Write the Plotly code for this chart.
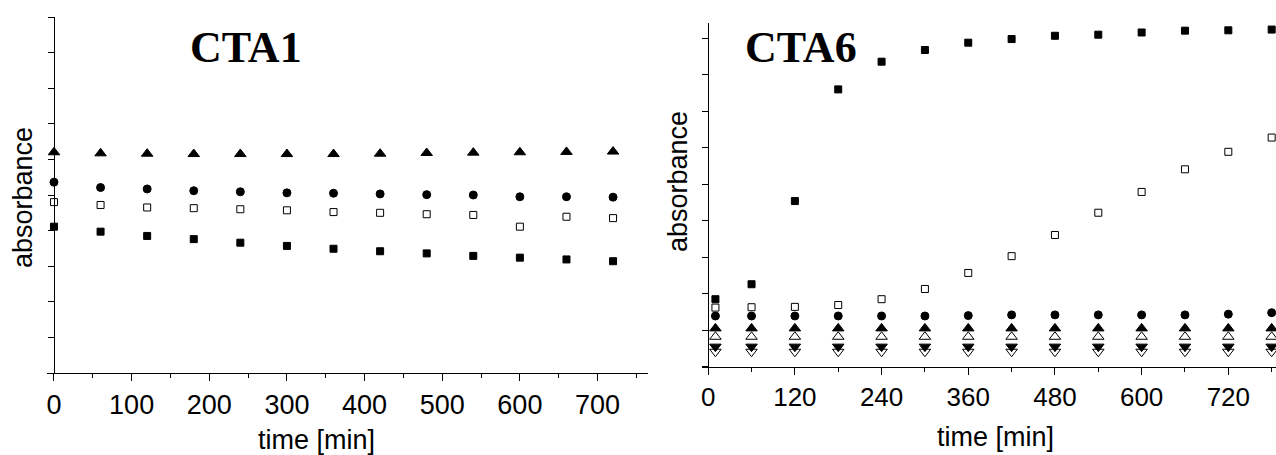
import plotly.graph_objects as go

W, H = 1276, 455

# ---------------- data: CTA1 (left) ----------------
t_left = [0, 60, 120, 180, 240, 300, 360, 420, 480, 540, 600, 660, 720]
cta1_tri_up = [6.20, 6.17, 6.16, 6.15, 6.15, 6.15, 6.15, 6.16, 6.18, 6.19, 6.20, 6.21, 6.22]
cta1_circle = [5.36, 5.21, 5.17, 5.12, 5.09, 5.06, 5.05, 5.03, 5.01, 5.00, 4.95, 4.95, 4.94]
cta1_sq_open = [4.80, 4.72, 4.65, 4.63, 4.60, 4.57, 4.52, 4.50, 4.46, 4.44, 4.11, 4.39, 4.35]
cta1_sq_fill = [4.11, 3.97, 3.85, 3.76, 3.66, 3.57, 3.49, 3.42, 3.36, 3.29, 3.24, 3.19, 3.14]

# ---------------- data: CTA6 (right) ----------------
t_right = [10, 60, 120, 180, 240, 300, 360, 420, 480, 540, 600, 660, 720, 780]
cta6_sq_fill = [1.85, 2.26, 4.54, 7.60, 8.36, 8.68, 8.88, 8.98, 9.07, 9.10, 9.16, 9.21, 9.22, 9.24]
cta6_sq_open = [1.62, 1.63, 1.64, 1.69, 1.85, 2.13, 2.57, 3.03, 3.61, 4.22, 4.79, 5.41, 5.89, 6.28]
cta6_circle = [1.39, 1.39, 1.39, 1.39, 1.39, 1.39, 1.40, 1.42, 1.42, 1.42, 1.42, 1.42, 1.44, 1.48]
cta6_tri_up = [1.05] * 14
cta6_tri_up_open = [0.82] * 14
cta6_tri_down = [0.55] * 14
cta6_tri_down_open = [0.41] * 14

right_xticks = [0, 120, 240, 360, 480, 600, 720]
titles = ["CTA1", "CTA6"]
x_title = "time [min]"
y_title = "absorbance"

FONT = "Liberation Sans, Arial, sans-serif"
SERIF = "Liberation Serif, Times New Roman, serif"


def px(x):
    return x / W


def py(y):
    return (H - y) / H


fig = go.Figure()


def add(x, y, symbol, size, xa, ya):
    fig.add_trace(go.Scatter(
        x=x, y=y, mode="markers", xaxis=xa, yaxis=ya, showlegend=False,
        cliponaxis=False,
        marker=dict(symbol=symbol, size=size, color="black",
                    line=dict(color="black", width=1)),
    ))


add(t_left, cta1_tri_up, "triangle-up", 10, "x", "y")
add(t_left, cta1_circle, "circle", 8, "x", "y")
add(t_left, cta1_sq_open, "square-open", 7, "x", "y")
add(t_left, cta1_sq_fill, "square", 7, "x", "y")

add(t_right, cta6_sq_fill, "square", 7, "x2", "y2")
add(t_right, cta6_sq_open, "square-open", 7, "x2", "y2")
add(t_right, cta6_circle, "circle", 8, "x2", "y2")
add(t_right, cta6_tri_up, "triangle-up", 10, "x2", "y2")
add(t_right, cta6_tri_up_open, "triangle-up-open", 10, "x2", "y2")
add(t_right, cta6_tri_down, "triangle-down", 10, "x2", "y2")
add(t_right, cta6_tri_down_open, "triangle-down-open", 10, "x2", "y2")


def axis_common(size):
    return dict(showgrid=False, zeroline=False, showline=True,
                linecolor="black", linewidth=1.2, ticks="outside",
                tickcolor="black", tickwidth=1.2,
                tickfont=dict(family=FONT, size=size, color="black"))


fig.update_layout(
    width=W, height=H,
    margin=dict(l=0, r=0, t=0, b=0),
    paper_bgcolor="white", plot_bgcolor="white",
    xaxis=dict(domain=[px(46.6), px(648)], range=[-9.5, 765], anchor="y",
               dtick=100, ticklen=7,
               minor=dict(dtick=50, ticklen=4, ticks="outside", tickcolor="black"),
               **axis_common(27)),
    yaxis=dict(domain=[py(373), py(17)], range=[0, 10], anchor="free",
               position=px(54), dtick=1, ticklen=6, showticklabels=False,
               **axis_common(27)),
    xaxis2=dict(domain=[px(701.7), 1.0], range=[-9, 786], anchor="y2",
                tickvals=right_xticks, ticklen=7,
                minor=dict(dtick=60, ticklen=4, ticks="outside", tickcolor="black"),
                **axis_common(26)),
    yaxis2=dict(domain=[py(366.7), py(23)], range=[0, 9.42], anchor="free",
                position=px(708), dtick=1, ticklen=6, showticklabels=False,
                **axis_common(26)),
)

ann = [
    (246, 48, titles[0], SERIF, 44, 0, True),
    (801, 48, titles[1], SERIF, 44, 0, True),
    (23, 198, y_title, FONT, 27, -90, False),
    (678, 182, y_title, FONT, 27, -90, False),
    (316, 440, x_title, FONT, 27, 0, False),
    (995, 437, x_title, FONT, 27, 0, False),
]
for x, y, text, fam, size, ang, bold in ann:
    fig.add_annotation(
        x=px(x), y=py(y), xref="paper", yref="paper",
        text=f"<b>{text}</b>" if bold else text, showarrow=False,
        textangle=ang, xanchor="center", yanchor="middle",
        font=dict(family=fam, size=size, color="black"),
    )

fig.write_html("out.html")
